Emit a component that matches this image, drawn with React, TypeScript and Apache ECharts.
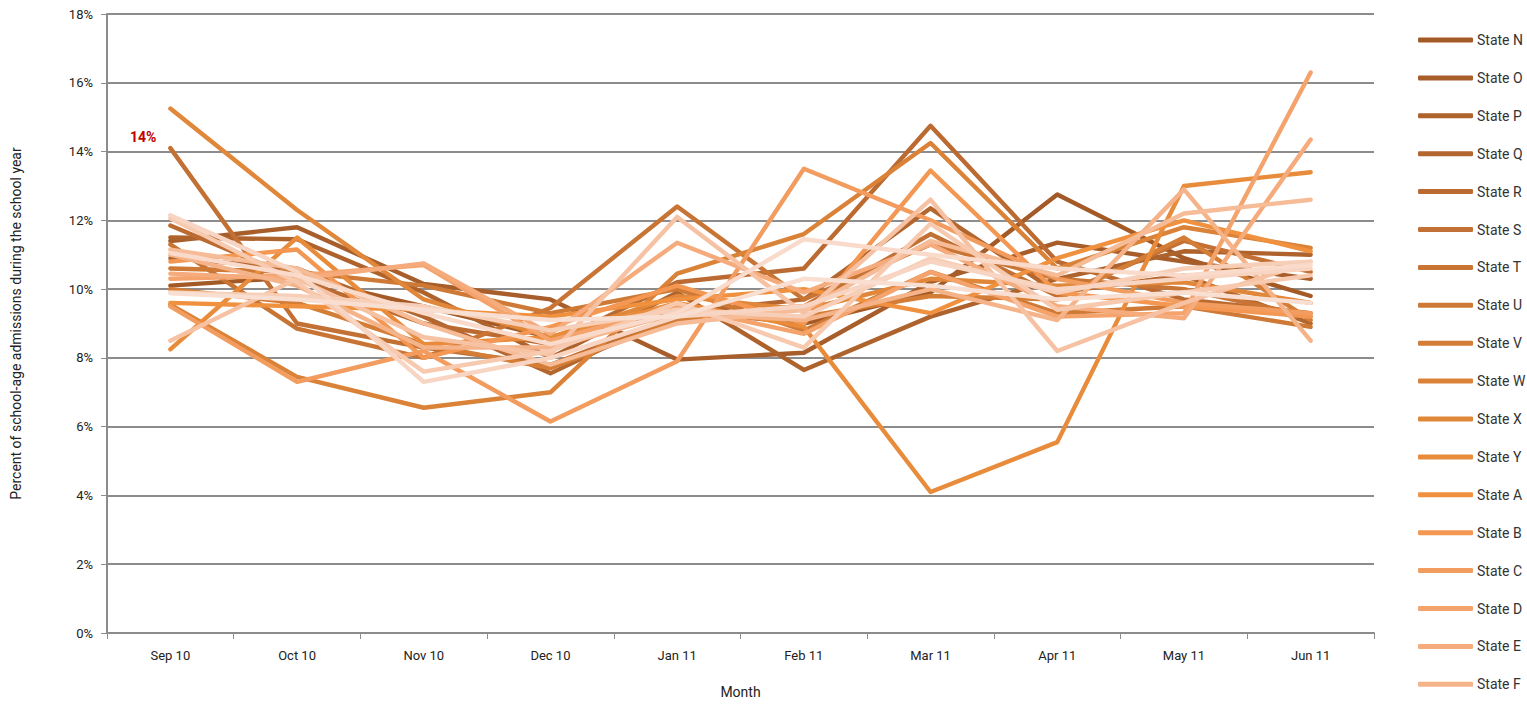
import React, { useEffect, useRef } from "react";
import * as echarts from "echarts";

const months = ["Sep 10", "Oct 10", "Nov 10", "Dec 10", "Jan 11", "Feb 11", "Mar 11", "Apr 11", "May 11", "Jun 11"];

const stateNames = [
  "State N", "State O", "State P", "State Q", "State R", "State S", "State T", "State U", "State V",
  "State W", "State X", "State Y", "State A", "State B", "State C", "State D", "State E", "State F",
  "State G", "State H", "State I", "State J", "State K", "State L", "State M",
];

const legendNames = stateNames.slice(0, 18);

const stateN = [10.1, 10.35, 9.5, 8.6, 9.4, 9.0, 9.9, 12.75, 10.9, 9.8];
const stateO = [11.4, 11.8, 10.15, 9.7, 7.95, 8.15, 10.2, 11.35, 10.8, 10.3];
const stateP = [11.5, 11.45, 9.9, 8.0, 9.9, 7.65, 9.2, 10.3, 11.1, 11.0];
const stateQ = [10.9, 10.6, 9.2, 7.55, 9.3, 9.7, 12.35, 9.9, 10.4, 9.0];
const stateR = [11.85, 10.3, 9.0, 8.4, 10.2, 10.6, 14.75, 10.8, 9.7, 9.3];
const stateS = [14.1, 9.0, 8.3, 7.8, 9.2, 9.5, 11.6, 9.8, 11.4, 10.5];
const stateT = [11.3, 8.85, 8.0, 9.45, 12.4, 9.7, 11.3, 10.3, 10.0, 9.2];
const stateU = [10.6, 10.5, 10.1, 9.3, 10.0, 8.8, 10.5, 9.3, 9.5, 8.9];
const stateV = [10.0, 9.6, 8.4, 7.7, 9.1, 9.2, 9.8, 9.7, 11.5, 9.1];
const stateW = [9.55, 7.45, 6.55, 7.0, 10.45, 11.6, 14.25, 10.6, 11.8, 11.2];
const stateX = [15.25, 12.3, 9.7, 8.6, 9.8, 9.4, 10.3, 10.1, 10.2, 9.6];
const stateY = [8.25, 11.5, 8.4, 8.6, 9.6, 8.9, 4.1, 5.55, 13.0, 13.4];
const stateA = [9.6, 9.5, 9.4, 9.2, 9.7, 10.0, 9.3, 10.9, 12.0, 11.1];
const stateB = [10.8, 11.15, 8.0, 8.9, 10.1, 9.0, 13.45, 9.9, 9.5, 9.2];
const stateC = [9.5, 7.3, 8.2, 6.15, 7.9, 13.5, 12.0, 10.3, 9.6, 9.3];
const stateD = [10.3, 10.4, 10.7, 8.5, 9.5, 8.7, 10.5, 9.2, 9.3, 16.3];
const stateE = [10.45, 10.3, 10.75, 8.7, 11.35, 9.9, 11.3, 9.5, 9.15, 14.35];
const stateF = [11.0, 10.1, 8.3, 8.3, 9.3, 9.1, 10.0, 9.1, 12.9, 8.5];
const stateG = [11.15, 10.6, 9.0, 7.8, 9.0, 9.4, 11.4, 10.4, 12.2, 12.6];
const stateH = [8.5, 10.3, 8.6, 8.1, 12.1, 9.3, 12.6, 8.2, 9.6, 10.8];
const stateI = [12.06, 10.2, 7.6, 8.2, 9.6, 8.3, 11.9, 9.4, 9.9, 10.4];
const stateJ = [9.9, 9.8, 9.5, 8.8, 9.4, 9.2, 10.9, 9.9, 10.6, 10.8];
const stateK = [12.15, 10.5, 7.3, 8.0, 9.2, 9.5, 10.8, 10.0, 10.3, 10.6];
const stateL = [11.05, 10.4, 9.3, 8.4, 9.3, 11.45, 11.0, 10.6, 10.4, 10.7];
const stateM = [9.88, 9.7, 9.4, 9.1, 9.2, 10.3, 10.1, 9.7, 9.9, 9.6];

const stateValues = [
  stateN, stateO, stateP, stateQ, stateR, stateS, stateT, stateU, stateV, stateW, stateX, stateY,
  stateA, stateB, stateC, stateD, stateE, stateF, stateG, stateH, stateI, stateJ, stateK, stateL, stateM,
];

const stateColors = [
  "#a35a27", "#a85e2a", "#ae622c", "#b4662f", "#bb6b31", "#c27033", "#c87434", "#ce7935", "#d47d36",
  "#da8238", "#e0873a", "#e88c3c", "#f0913f", "#f39752", "#f39c60", "#f4a36d", "#f5ab7c", "#f5b38a",
  "#f6bb97", "#f6c2a3", "#f7c9ae", "#f7cfb8", "#f8d5c2", "#f9dacb", "#f9ded2",
];

const yTicks = [0, 2, 4, 6, 8, 10, 12, 14, 16, 18];
const annotationText = "14%";

const FONT = "Roboto, 'Liberation Sans Narrow', 'Noto Sans', sans-serif";

export default function App() {
  const ref = useRef<HTMLDivElement>(null);

  useEffect(() => {
    if (!ref.current) return;
    const chart = echarts.init(ref.current, undefined, { renderer: "svg" });
    const series = stateNames.map((name, i) => {
      const s: any = {
        name,
        type: "line",
        data: stateValues[i],
        showSymbol: false,
        symbol: "none",
        color: stateColors[i],
        lineStyle: { width: 4.4, color: stateColors[i], cap: "round", join: "round" },
        emphasis: { disabled: true },
        z: 2,
      };
      if (name === "State S") {
        s.markPoint = {
          symbol: "circle",
          symbolSize: 0,
          silent: true,
          data: [{ coord: [0, stateS[0]], value: annotationText }],
          label: {
            show: true,
            position: "left",
            distance: 14,
            offset: [0, -11],
            formatter: annotationText,
            color: "#c00000",
            fontWeight: "bold",
            fontSize: 14,
            fontFamily: FONT,
          },
        };
      }
      return s;
    });

    chart.setOption({
      animation: false,
      textStyle: { fontFamily: FONT },
      grid: { left: 107, right: 153, top: 14, bottom: 61, containLabel: false },
      legend: {
        data: legendNames,
        orient: "vertical",
        left: 1413,
        top: 28,
        icon: "roundRect",
        itemWidth: 55,
        itemHeight: 5,
        itemGap: 23.9,
        textStyle: { fontSize: 14, color: "#333", fontFamily: FONT, padding: [0, 0, 0, -1] },
        selectedMode: false,
      },
      xAxis: {
        type: "category",
        data: months,
        boundaryGap: true,
        name: "Month",
        nameLocation: "middle",
        nameGap: 52,
        nameTextStyle: { fontSize: 14, color: "#222", fontFamily: FONT },
        axisLine: { show: true, lineStyle: { color: "#8c8c8c", width: 2 } },
        axisTick: { show: true, length: 6, lineStyle: { color: "#8c8c8c", width: 1 } },
        axisLabel: { fontSize: 13, color: "#222", margin: 16, fontFamily: FONT },
        splitLine: { show: false },
      },
      yAxis: {
        type: "value",
        min: 0,
        max: 18,
        interval: 2,
        name: "Percent of school-age admissions during the school year",
        nameLocation: "middle",
        nameGap: 84,
        nameRotate: 90,
        nameTextStyle: { fontSize: 14, color: "#222", fontFamily: FONT },
        axisLine: { show: true, lineStyle: { color: "#8c8c8c", width: 2 } },
        axisTick: { show: true, length: 6, lineStyle: { color: "#8c8c8c", width: 1 } },
        axisLabel: {
          fontSize: 13,
          color: "#222",
          margin: 14,
          fontFamily: FONT,
          formatter: (v: number) => (yTicks.includes(v) ? `${v}%` : ""),
        },
        splitLine: { show: true, lineStyle: { color: "#8c8c8c", width: 2 } },
      },
      series,
    });

    return () => chart.dispose();
  }, []);

  return (
    <div
      ref={ref}
      style={{ position: "fixed", left: 0, top: 0, width: 1527, height: 704, background: "#fff" }}
    />
  );
}
